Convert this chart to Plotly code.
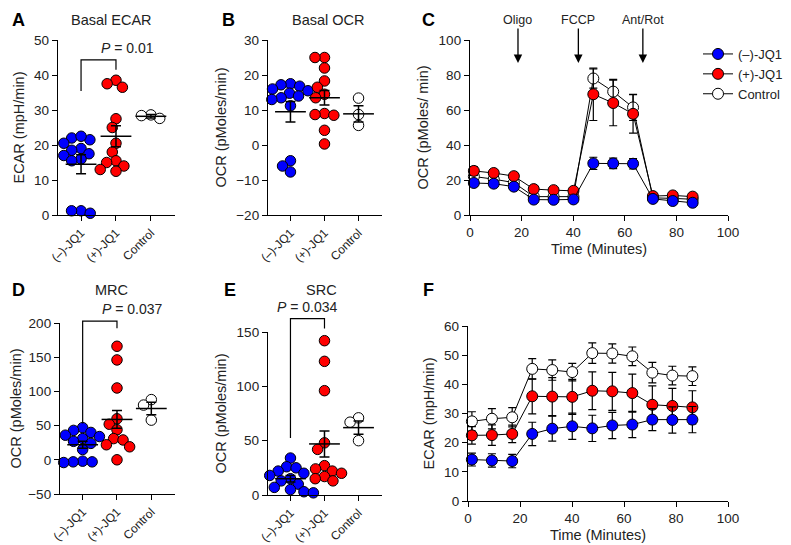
import numpy as np
import plotly.graph_objects as go

# ---------------- data ----------------
groups = ["(–)-JQ1", "(+)-JQ1", "Control"]

# A  Basal ECAR (mpH/min)
basal_ecar_neg = [22, 21.5, 22.5, 20.5, 19, 18.5, 17.5, 17, 16, 15.5, 1.2, 0.5, 1.2]
basal_ecar_pos = [38.5, 37.5, 36.5, 27.5, 25, 20.5, 18, 15.5, 15, 14, 13, 12.5]
basal_ecar_ctl = [28.6, 28.4, 27.6]
basal_ecar_mean = [14.5, 22.5, 28.2]
basal_ecar_sem = [2.7, 3.0, 0.5]

# B  Basal OCR (pMoles/min)
basal_ocr_neg = [17.5, 17.2, 16.8, 16, 15.5, 14.8, 14, 13.5, 13, 11.2, -4.5, -6, -7.7]
basal_ocr_pos = [25, 25, 22, 18.3, 16.5, 14.5, 13.5, 9, 8.7, 8.5, 4.2, 0.3]
basal_ocr_ctl = [13.4, 8.7, 5.6]
basal_ocr_mean = [9.5, 13.5, 8.9]
basal_ocr_sem = [2.9, 2.1, 2.3]

# D  MRC
mrc_neg = [47, 43, 40, 36, 34, 31, 30, 27, 24, 15, -2, -3, -4, -3]
mrc_pos = [166, 146, 105, 60, 52, 44, 31, 29, 22, 19, 0]
mrc_ctl = [88, 80, 58]
mrc_mean = [22, 59, 75]
mrc_sem = [5, 13, 9]

# E  SRC
src_neg = [34, 26, 25, 22, 20, 18, 15, 13, 10, 7, 5, 3, 2]
src_pos = [142, 123, 96, 48, 42, 27, 24, 22, 20, 17, 15, 13]
src_ctl = [71, 67, 50]
src_mean = [15, 47, 62]
src_sem = [3, 12, 6]

# C / F  time courses
times = [1.5, 9.2, 17.0, 24.7, 32.4, 40.1, 47.8, 55.5, 63.2, 70.9, 78.6, 86.3]
ocr_neg = [18.3, 17.9, 16.2, 8.8, 8.7, 8.9, 29.5, 29.5, 29.3, 9.2, 8.0, 7.0]
ocr_neg_sem = [2, 2, 2, 1.5, 1.5, 1.5, 3.5, 3, 3, 1.5, 1.5, 1.5]
ocr_pos = [25.2, 24.0, 22.2, 14.8, 14.2, 13.8, 69.0, 64.0, 57.8, 10.8, 11.2, 10.5]
ocr_pos_sem = [2.5, 2, 2, 2, 1.5, 1.5, 15, 13, 11, 1.5, 1.5, 1.5]
ocr_ctl = [22, 20.5, 18.5, 10.5, 10.5, 10.5, 78, 70.5, 61.5, 9.8, 9.5, 9.0]
ocr_ctl_sem = [4, 2.5, 2.5, 1.5, 1.5, 1.5, 5.5, 7, 7.5, 1.5, 1.5, 1.5]

ecar_neg = [14.2, 13.9, 13.7, 23.0, 24.8, 25.6, 24.9, 25.9, 26.2, 27.9, 27.8, 27.9]
ecar_neg_sem = [2.2, 2.3, 2.3, 4, 4.3, 4.5, 4.5, 4.5, 4.5, 3.8, 4.5, 4.5]
ecar_pos = [22.5, 22.6, 23.0, 35.9, 35.8, 35.7, 37.8, 37.6, 37.0, 33.0, 32.6, 32.1]
ecar_pos_sem = [3, 3.5, 3, 6, 6.5, 6, 6.5, 6.5, 6.5, 6.5, 6, 5.7]
ecar_ctl = [27.3, 28.2, 28.7, 45.3, 44.9, 44.2, 50.7, 50.6, 49.6, 44.0, 43.0, 42.8]
ecar_ctl_sem = [3.3, 3.5, 3.3, 3.5, 3.5, 3.0, 3.5, 3.3, 3.2, 3.5, 3.2, 3.2]

injections = ["Oligo", "FCCP", "Ant/Rot"]
injection_times = [18.6, 42, 67]

# brackets: (p text, top, left leg bottom, right leg bottom)
p_a = ("<i>P</i> = 0.01", 44.3, 35.4, 41.5)
p_d = ("<i>P</i> = 0.037", 202.6, 53, 192.5)
p_e = ("<i>P</i> = 0.034", 162.3, 52.4, 153.3)

# ---------------- layout helpers ----------------
W, H = 791, 545
BLUE, RED, WHITE = "#0000ff", "#ff0000", "#ffffff"
FONT = "Liberation Sans, Arial, sans-serif"
CAT_RANGE = [-0.66, 2.69]

# pixel boxes (left, top, right, bottom)
boxes = {
    1: (50, 32, 167, 207),
    2: (260, 32, 374, 207),
    3: (462, 32, 720, 207),
    4: (52, 315, 167, 486),
    5: (260, 324, 374, 487),
    6: (460, 318, 720, 493),
}
yranges = {1: [0, 50], 2: [-20, 30], 3: [0, 100], 4: [-50, 200], 5: [0, 150], 6: [0, 60]}
dticks = {1: 10, 2: 10, 3: 20, 4: 50, 5: 50, 6: 10}


def to_paper_x(i, v, rng):
    l, t, r, b = boxes[i]
    return (l + (v - rng[0]) / (rng[1] - rng[0]) * (r - l)) / W


def to_paper_y(i, v):
    l, t, r, b = boxes[i]
    rng = yranges[i]
    return 1 - (b - (v - rng[0]) / (rng[1] - rng[0]) * (b - t)) / H


def swarm(vals, i, d=9.5):
    l, t, r, b = boxes[i]
    px_y = (b - t) / (yranges[i][1] - yranges[i][0])
    px_x = (r - l) / (CAT_RANGE[1] - CAT_RANGE[0])
    vals = np.asarray(vals, dtype=float)
    xs = np.zeros(len(vals))
    placed = []
    for k in np.argsort(-vals):
        y = vals[k] * px_y
        cands = [0.0]
        for px, py in placed:
            dy = abs(y - py)
            if dy < d:
                s = np.sqrt(d * d - dy * dy)
                cands += [px - s, px + s]
        cands.sort(key=lambda c: (abs(c), c))
        for c in cands:
            if all((c - px) ** 2 + (y - py) ** 2 >= d * d - 1e-6 for px, py in placed):
                xs[k] = c
                placed.append((c, y))
                break
    return xs / px_x


fig = go.Figure()

axis_common = dict(showline=True, linecolor="black", linewidth=1.3, ticks="outside",
                   ticklen=5, tickwidth=1.3, tickcolor="black", showgrid=False,
                   zeroline=False, tickfont=dict(family=FONT, size=13.5, color="#222"),
                   automargin=False, fixedrange=True)

layout_axes = {}
for i, (l, t, r, b) in boxes.items():
    xa = "xaxis" if i == 1 else f"xaxis{i}"
    ya = "yaxis" if i == 1 else f"yaxis{i}"
    if i in (3, 6):
        xcfg = dict(range=[0, 100], tickvals=[0, 20, 40, 60, 80, 100],
                    title=dict(text="Time (Minutes)", font=dict(size=14.5), standoff=4))
    else:
        xcfg = dict(range=CAT_RANGE, tickvals=[0, 1, 2], ticktext=groups, tickangle=-45,
                    tickfont=dict(family=FONT, size=12, color="#222"))
    layout_axes[xa] = dict(axis_common, domain=[l / W, r / W], anchor=f"y{i}")
    layout_axes[xa].update(xcfg)
    ytitles = {1: "ECAR (mpH/min)", 2: "OCR (pMoles/min)", 3: "OCR (pMoles/ min)",
               4: "OCR (pMoles/min)", 5: "OCR (pMoles/min)", 6: "ECAR (mpH/min)"}
    layout_axes[ya] = dict(axis_common, domain=[1 - b / H, 1 - t / H], anchor=f"x{i}",
                           range=yranges[i], dtick=dticks[i],
                           title=dict(text=ytitles[i], font=dict(size=14.5), standoff=6))


def dot_panel(i, neg, pos, ctl, mean, sem):
    xr = "x" if i == 1 else f"x{i}"
    yr = "y" if i == 1 else f"y{i}"
    for g, (vals, col) in enumerate([(neg, BLUE), (pos, RED), (ctl, WHITE)]):
        fig.add_trace(go.Scatter(
            x=g + swarm(vals, i), y=vals, mode="markers", xaxis=xr, yaxis=yr,
            marker=dict(size=10.5, color=col, line=dict(color="black", width=1)),
            cliponaxis=False, showlegend=False, hoverinfo="y"))
    fig.add_trace(go.Scatter(
        x=[0, 1, 2], y=mean, mode="markers", xaxis=xr, yaxis=yr,
        marker=dict(symbol="line-ew", size=22, line=dict(color="black", width=1.5)),
        error_y=dict(type="data", array=sem, color="black", thickness=1.5, width=5),
        cliponaxis=False, showlegend=False, hoverinfo="skip"))


def bracket(i, p):
    text, top, lb, rb = p
    x0 = to_paper_x(i, 0, CAT_RANGE)
    x1 = to_paper_x(i, 1, CAT_RANGE)
    fig.add_shape(type="path", xref="paper", yref="paper",
                  path=f"M {x0},{to_paper_y(i, lb)} L {x0},{to_paper_y(i, top)} "
                       f"L {x1},{to_paper_y(i, top)} L {x1},{to_paper_y(i, rb)}",
                  line=dict(color="black", width=1.2))
    fig.add_annotation(x=(x0 + x1) / 2, y=to_paper_y(i, top), xref="paper", yref="paper",
                       text=text, showarrow=False, yanchor="bottom", yshift=2,
                       font=dict(size=14, color="#222"))


dot_panel(1, basal_ecar_neg, basal_ecar_pos, basal_ecar_ctl, basal_ecar_mean, basal_ecar_sem)
dot_panel(2, basal_ocr_neg, basal_ocr_pos, basal_ocr_ctl, basal_ocr_mean, basal_ocr_sem)
dot_panel(4, mrc_neg, mrc_pos, mrc_ctl, mrc_mean, mrc_sem)
dot_panel(5, src_neg, src_pos, src_ctl, src_mean, src_sem)
bracket(1, p_a)
bracket(4, p_d)
bracket(5, p_e)


def time_panel(i, series, legend):
    for name, vals, err, col, rank in series:
        fig.add_trace(go.Scatter(
            x=times, y=vals, mode="lines+markers", name=name, xaxis=f"x{i}", yaxis=f"y{i}",
            line=dict(color="black", width=1),
            marker=dict(size=11, color=col, line=dict(color="black", width=1)),
            error_y=dict(type="data", array=err, color="black", thickness=1.2, width=4),
            cliponaxis=False, showlegend=legend, legendrank=rank))


time_panel(3, [(groups[2], ocr_ctl, ocr_ctl_sem, WHITE, 3),
               (groups[1], ocr_pos, ocr_pos_sem, RED, 2),
               (groups[0], ocr_neg, ocr_neg_sem, BLUE, 1)], True)
time_panel(6, [(groups[2], ecar_ctl, ecar_ctl_sem, WHITE, 3),
               (groups[1], ecar_pos, ecar_pos_sem, RED, 2),
               (groups[0], ecar_neg, ecar_neg_sem, BLUE, 1)], False)

# injection arrows on C
for name, t in zip(injections, injection_times):
    fig.add_annotation(x=t, y=1 - 55 / H, xref="x3", yref="paper", text=name,
                       showarrow=True, ax=0, ay=-43, arrowhead=2, arrowsize=1.3,
                       arrowwidth=1.3, arrowcolor="black", font=dict(size=12.5, color="#222"))

# panel letters and titles
letters = {"A": (10, 12), "B": (220, 12), "C": (420, 12), "D": (10, 282), "E": (222, 282), "F": (420, 282)}
for k, (x, y) in letters.items():
    fig.add_annotation(x=x / W, y=1 - y / H, xref="paper", yref="paper", text=f"<b>{k}</b>",
                       showarrow=False, xanchor="center", yanchor="middle",
                       font=dict(size=18, color="black"))
titles = {"Basal ECAR": (103, 12), "Basal OCR": (320, 12), "MRC": (103, 282), "SRC": (313, 282)}
for k, (x, y) in titles.items():
    fig.add_annotation(x=x / W, y=1 - y / H, xref="paper", yref="paper", text=k,
                       showarrow=False, xanchor="center", yanchor="middle",
                       font=dict(size=14.5, color="#222"))

fig.update_layout(
    width=W, height=H, margin=dict(l=0, r=0, t=0, b=0),
    plot_bgcolor="white", paper_bgcolor="white",
    font=dict(family=FONT, size=14, color="#222"),
    legend=dict(x=690 / W, y=1 - 31 / H, xanchor="left", yanchor="top",
                font=dict(size=13), bgcolor="rgba(0,0,0,0)", itemwidth=30),
    **layout_axes,
)

fig.write_html("out.html")
